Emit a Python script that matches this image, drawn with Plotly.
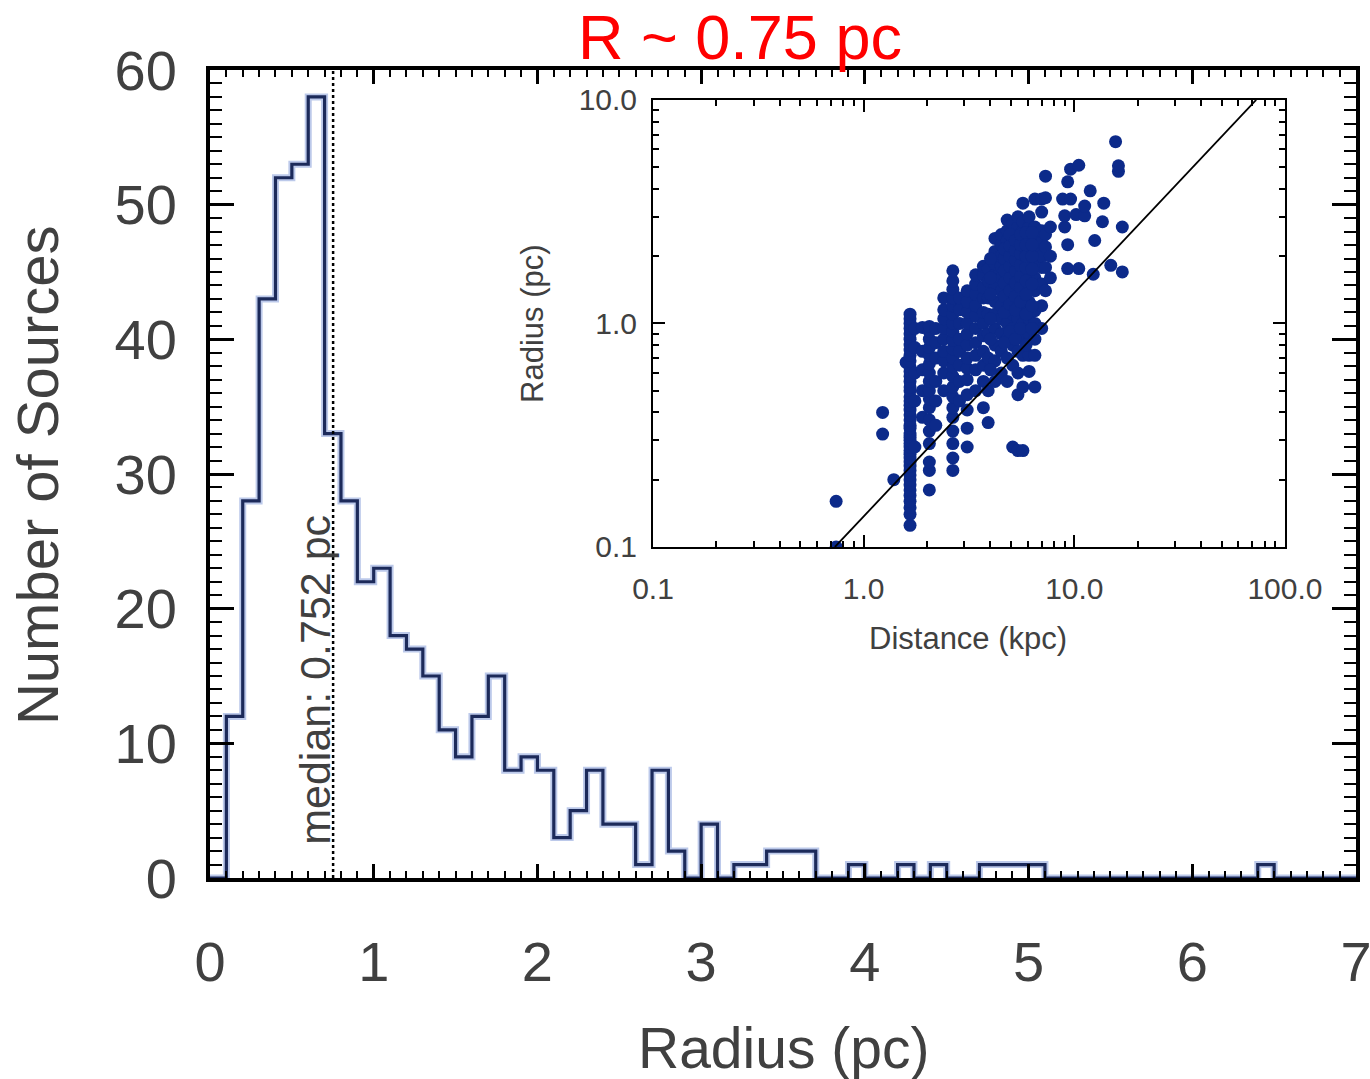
import numpy as np
import plotly.graph_objects as go

# ---------------- data ----------------
bin_width = 0.1
counts = [0, 12, 28, 43, 52, 53, 58, 33, 28, 22,
          23, 18, 17, 15, 11, 9, 12, 15, 8, 9,
          8, 3, 5, 8, 4, 4, 1, 8, 2, 0,
          4, 0, 1, 1, 2, 2, 2, 0, 0, 1,
          0, 0, 1, 0, 1, 0, 0, 1, 1, 1,
          1, 0, 0, 0, 0, 0, 0, 0, 0, 0,
          0, 0, 0, 0, 1, 0, 0, 0, 0, 0]
median_pc = 0.752

x_ticks = [0, 1, 2, 3, 4, 5, 6, 7]
y_ticks = [0, 10, 20, 30, 40, 50, 60]

# inset scatter: distance columns (kpc) and radii (pc) found at each distance
column_dist = [0.74, 1.23, 1.39, 1.59, 1.66, 1.75, 1.9, 2.05, 2.2, 2.4, 2.65, 2.85,
               3.1, 3.4, 3.7, 3.9, 4.2, 4.5, 4.8, 5.1, 5.4, 5.7, 6.1, 6.5, 7.0,
               7.3, 7.7, 8.8, 9.0, 9.3, 9.6, 10.2, 10.5, 11.2, 11.9, 12.3, 12.5,
               13.6, 13.8, 14.9, 15.7, 16.2, 16.9,
               4.0, 4.65, 4.95, 5.25, 5.55, 5.9, 6.3]
column_radii = [
    [0.10, 0.16],
    [0.32, 0.40],
    [0.20],
    [0.67],
    [0.125, 0.14, 0.15, 0.16, 0.17, 0.18, 0.19, 0.20, 0.21, 0.22, 0.23, 0.24, 0.25,
     0.26, 0.27, 0.28, 0.29, 0.30, 0.31, 0.32, 0.34, 0.35, 0.37, 0.39, 0.41, 0.43,
     0.45, 0.47, 0.50, 0.52, 0.55, 0.58, 0.61, 0.64, 0.68, 0.72, 0.76, 0.80, 0.85,
     0.90, 0.95, 1.00, 1.05, 1.10],
    [0.28, 0.45, 0.60, 0.78, 0.95],
    [0.38, 0.50, 0.62, 0.75, 0.96],
    [0.18, 0.22, 0.24, 0.29, 0.33, 0.37, 0.42, 0.46, 0.50, 0.55, 0.60, 0.66, 0.72,
     0.78, 0.85, 0.92, 0.97],
    [0.35, 0.45, 0.55, 0.70, 0.82, 0.95],
    [0.50, 0.60, 0.68, 0.75, 0.85, 0.95, 1.05, 1.15, 1.30],
    [0.22, 0.25, 0.29, 0.33, 0.38, 0.42, 0.47, 0.52, 0.58, 0.64, 0.70, 0.77, 0.84,
     0.92, 1.00, 1.10, 1.20, 1.30, 1.42, 1.55, 1.72],
    [0.45, 0.55, 0.65, 0.75, 0.85, 1.00, 1.15, 1.30],
    [0.28, 0.34, 0.41, 0.48, 0.56, 0.63, 0.70, 0.80, 0.90, 1.00, 1.12, 1.25, 1.40],
    [0.50, 0.62, 0.72, 0.82, 0.95, 1.08, 1.20, 1.35, 1.50, 1.65],
    [0.42, 0.55, 0.65, 0.75, 0.88, 1.00, 1.12, 1.30, 1.45, 1.65, 1.80],
    [0.36, 0.50, 0.70, 0.90, 1.10, 1.30, 1.55, 1.75],
    [0.55, 0.68, 0.80, 0.95, 1.10, 1.25, 1.45, 1.65, 1.85, 2.10, 2.40],
    [0.60, 0.75, 0.90, 1.05, 1.20, 1.40, 1.60, 1.80, 2.00, 2.25, 2.50],
    [0.55, 0.70, 0.85, 1.00, 1.15, 1.30, 1.50, 1.70, 1.90, 2.10, 2.35, 2.60, 2.90],
    [0.28, 0.65, 0.80, 0.95, 1.10, 1.25, 1.45, 1.65, 1.85, 2.05, 2.30, 2.55, 2.80],
    [0.27, 0.48, 0.60, 0.75, 0.90, 1.05, 1.20, 1.40, 1.60, 1.80, 2.00, 2.20, 2.45,
     2.70, 3.00],
    [0.27, 0.52, 0.72, 0.85, 1.00, 1.15, 1.30, 1.50, 1.70, 1.90, 2.10, 2.35, 2.60,
     2.85, 3.45],
    [0.61, 0.72, 0.90, 1.05, 1.25, 1.45, 1.65, 1.90, 2.15, 2.40, 2.70, 3.00],
    [0.52, 0.72, 0.85, 1.00, 1.14, 1.40, 1.60, 1.85, 2.10, 2.40, 2.70, 3.60],
    [0.95, 1.20, 1.50, 1.78, 2.00, 2.30, 2.60, 3.15, 3.60],
    [1.40, 1.78, 2.20, 2.50, 3.65, 4.56],
    [1.60, 2.00, 2.70],
    [3.60],
    [2.70, 3.03],
    [1.76, 2.25, 4.30],
    [3.60, 4.90],
    [3.07],
    [1.76, 5.10],
    [3.03, 3.35],
    [3.92],
    [1.66],
    [2.35],
    [2.85],
    [3.45],
    [1.82],
    [6.50],
    [4.79, 5.07],
    [1.70, 2.70],
    [0.62, 0.85, 1.05, 1.35, 1.6, 1.95],
    [0.82, 1.12, 1.32, 1.52, 1.72, 1.95, 2.15],
    [0.92, 1.22, 1.40, 1.60, 1.80, 2.00, 2.22, 2.50],
    [0.85, 1.15, 1.32, 1.52, 1.72, 1.92, 2.12, 2.35],
    [0.95, 1.25, 1.45, 1.62, 1.82, 2.05, 2.25, 2.50],
    [0.80, 1.10, 1.35, 1.55, 1.78, 2.00, 2.25, 2.55],
    [0.95, 1.20, 1.50, 1.75, 2.00, 2.25, 2.55],
]
line_dist = [0.73, 73.0]
line_rad = [0.10, 10.0]

inset_x_ticks = [0.1, 1, 10, 100]
inset_x_text = ["0.1", "1.0", "10.0", "100.0"]
inset_y_ticks = [0.1, 1, 10]
inset_y_text = ["0.1", "1.0", "10.0"]

# ---------------- build ----------------
edges = np.arange(len(counts) + 1) * bin_width
step_y = counts + [0]

dist = [d for d, rs in zip(column_dist, column_radii) for _ in rs]
rad = [r for rs in column_radii for r in rs]

FONT = "Liberation Sans, Arial, Helvetica, sans-serif"
GREY = "#404040"

fig = go.Figure()

# halo + line of the histogram outline
fig.add_trace(go.Scatter(x=edges, y=step_y, mode="lines",
                         line=dict(shape="hv", color="#bcc9ea", width=7),
                         hoverinfo="skip", showlegend=False))
fig.add_trace(go.Scatter(x=edges, y=step_y, mode="lines",
                         line=dict(shape="hv", color="#1c2a5a", width=3.2),
                         showlegend=False))
# median line
fig.add_trace(go.Scatter(x=[median_pc, median_pc], y=[0, y_ticks[-1]], mode="lines",
                         line=dict(color="black", width=2.5, dash="dot"),
                         showlegend=False))

# inset scatter + line
fig.add_trace(go.Scatter(x=dist, y=rad, mode="markers", xaxis="x2", yaxis="y2",
                         marker=dict(size=13, color="#0c2a8a", line=dict(width=0)),
                         showlegend=False))
fig.add_trace(go.Scatter(x=line_dist, y=line_rad, mode="lines", xaxis="x2", yaxis="y2",
                         line=dict(color="black", width=1.8), showlegend=False))

main_axis = dict(showline=True, linewidth=4, linecolor="black", mirror="allticks",
                 ticks="inside", tickcolor="black", tickwidth=2.5, showgrid=False,
                 zeroline=False, automargin=False, ticklabeloverflow="allow",
                 tickfont=dict(family=FONT, size=56, color=GREY))

fig.update_layout(
    width=1370, height=1079,
    margin=dict(l=210, r=14, t=70, b=201, autoexpand=False),
    paper_bgcolor="white", plot_bgcolor="white",
    showlegend=False,
    xaxis=dict(range=[0, 7], tickvals=x_ticks, ticklen=14, ticklabelstandoff=32,
               minor=dict(dtick=0.1, ticklen=7, ticks="inside", tickcolor="black",
                          tickwidth=2, showgrid=False),
               **main_axis),
    yaxis=dict(range=[0, 60], tickvals=y_ticks, ticklen=24, ticklabelstandoff=18,
               minor=dict(dtick=1, ticklen=12, ticks="inside", tickcolor="black",
                          tickwidth=2, showgrid=False),
               **main_axis),
    xaxis2=dict(type="log", range=[-1, 2], domain=[0.3866, 0.938], anchor="y2",
                showline=True, linewidth=2, linecolor="black", mirror="allticks",
                ticks="inside", ticklen=12, tickwidth=1.5, tickcolor="black",
                tickvals=inset_x_ticks, ticktext=inset_x_text, ticklabelstandoff=14,
                minor=dict(dtick="D1", ticks="inside", ticklen=6, tickcolor="black",
                           tickwidth=1.5, showgrid=False),
                showgrid=False, zeroline=False, automargin=False,
                ticklabeloverflow="allow",
                tickfont=dict(family=FONT, size=30, color=GREY)),
    yaxis2=dict(type="log", range=[-1, 1], domain=[0.4097, 0.963], anchor="x2",
                showline=True, linewidth=2, linecolor="black", mirror="allticks",
                ticks="inside", ticklen=12, tickwidth=1.5, tickcolor="black",
                tickvals=inset_y_ticks, ticktext=inset_y_text, ticklabelstandoff=8,
                minor=dict(dtick="D1", ticks="inside", ticklen=6, tickcolor="black",
                           tickwidth=1.5, showgrid=False),
                showgrid=False, zeroline=False, automargin=False,
                ticklabeloverflow="allow",
                tickfont=dict(family=FONT, size=30, color=GREY)),
)

annotations = [
    dict(text="R ~ 0.75 pc", x=0.4625, y=1.0408, xref="paper", yref="paper",
         showarrow=False, xanchor="center", yanchor="middle",
         font=dict(family=FONT, size=63, color="#ff0000")),
    dict(text="Radius (pc)", x=0.5, y=-0.2104, xref="paper", yref="paper",
         showarrow=False, xanchor="center", yanchor="middle",
         font=dict(family=FONT, size=57, color=GREY)),
    dict(text="Number of Sources", x=-0.150, y=0.4988, xref="paper", yref="paper",
         showarrow=False, textangle=-90, xanchor="center", yanchor="middle",
         font=dict(family=FONT, size=58, color=GREY)),
    dict(text="median: 0.752 pc", x=0.64, y=14.7, xref="x", yref="y",
         showarrow=False, textangle=-90, xanchor="center", yanchor="middle",
         font=dict(family=FONT, size=43, color=GREY)),
    dict(text="Distance (kpc)", x=0.6614, y=0.297, xref="paper", yref="paper",
         showarrow=False, xanchor="center", yanchor="middle",
         font=dict(family=FONT, size=31, color=GREY)),
    dict(text="Radius (pc)", x=0.2818, y=0.6869, xref="paper", yref="paper",
         showarrow=False, textangle=-90, xanchor="center", yanchor="middle",
         font=dict(family=FONT, size=31, color=GREY)),
]
fig.update_layout(annotations=annotations)

fig.write_html("out.html")
